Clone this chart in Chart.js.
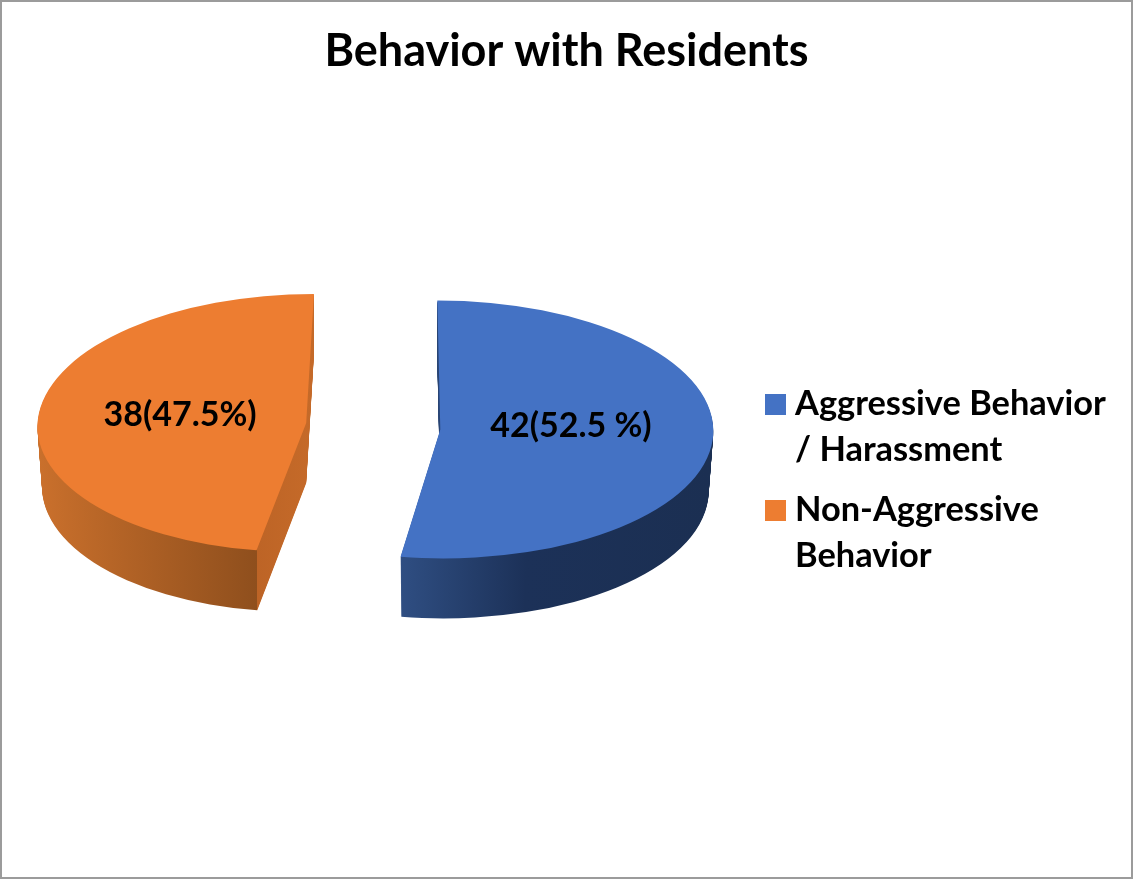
<!DOCTYPE html>
<html>
<head>
<meta charset="utf-8">
<title>Behavior with Residents</title>
<script src="https://cdn.jsdelivr.net/npm/chart.js@4/dist/chart.umd.min.js"></script>
<style>
  html, body { margin: 0; padding: 0; background: #fff; overflow: hidden; }
  #wrap { position: relative; width: 1133px; height: 879px; }
  #pie-chart { display: block; outline: 2px solid #9b9b9b; outline-offset: -2px; }
</style>
</head>
<body>
<div id="wrap"><canvas id="pie-chart" width="1133" height="879"></canvas></div>
<script>
const chartTitle = "Behavior with Residents";
const categories = ["Aggressive Behavior / Harassment", "Non-Aggressive Behavior"];
const legendLines = [["Aggressive Behavior", "/ Harassment"], ["Non-Aggressive", "Behavior"]];
const values = [42, 38];
const valueLabels = ["42(52.5 %)", "38(47.5%)"];
const sliceColors = ["#4472c4", "#ed7d31"];

// fake 3d: the arcs get squashed, pulled apart and stacked
const pieX = 375.5;
const pieY = 425.5;
const squash = 0.4725;
const depth = 60;
const shrink = 0.017;
const explode = [65, 69.5];
const sliceDrop = [1.5, 0];
const sliceWidth = [1, 0.984];
const sliceSkew = [0.023, -0.06];
const labelGap = 65;
const labelLift = [-7, -3];
const fontName = "Lato, Carlito, sans-serif";

// stops are relative to the slice's own center
function sideFill(ctx, arc, i) {
  const R = arc.outerRadius;
  let g;
  if (i === 0) {
    g = ctx.createLinearGradient(arc.x - 43, 0, arc.x + R, 0);
    g.addColorStop(0, "#2f4e82");
    g.addColorStop(0.4, "#1c3158");
    g.addColorStop(1, "#1b2f52");
  } else {
    g = ctx.createLinearGradient(arc.x - R, 0, arc.x + 3, 0);
    g.addColorStop(0, "#ca702c");
    g.addColorStop(0.834, "#8f4f1d");
    g.addColorStop(0.835, "#bd6426");
    g.addColorStop(1, "#c56a29");
  }
  return g;
}

const pie3d = {
  id: "pie3d",
  beforeDatasetDraw(chart, args) {
    const ctx = chart.ctx;
    args.meta.data.forEach((arc, i) => {
      const base = arc.options;
      const mid = (arc.startAngle + arc.endAngle) / 2;
      const ex = Math.cos(mid) * explode[i];
      const ey = Math.sin(mid) * explode[i] * squash + sliceDrop[i];
      const side = Object.create(base);
      side.backgroundColor = sideFill(ctx, arc, i);
      for (let t = depth; t >= 0; t--) {
        const s = 1 - shrink * t / depth;
        ctx.save();
        ctx.translate(pieX + ex, pieY + ey + t);
        ctx.transform(1, 0, sliceSkew[i], 1, 0, 0);
        ctx.scale(s * sliceWidth[i], squash);
        ctx.translate(-arc.x, -arc.y);
        arc.options = t === 0 ? base : side;
        arc.draw(ctx);
        ctx.restore();
      }
      arc.options = base;
    });
    return false;
  },
  afterDatasetsDraw(chart) {
    const ctx = chart.ctx;
    const arcs = chart.getDatasetMeta(0).data;
    ctx.save();
    ctx.fillStyle = "#000";
    // value labels
    ctx.font = "bold 34px " + fontName;
    ctx.textAlign = "center";
    ctx.textBaseline = "middle";
    arcs.forEach((arc, i) => {
      const mid = (arc.startAngle + arc.endAngle) / 2;
      const r = arc.outerRadius * 0.48 + labelGap;
      ctx.fillText(valueLabels[i], pieX + Math.cos(mid) * r, pieY + Math.sin(mid) * r * squash + labelLift[i]);
    });
    // legend, two lines each
    ctx.font = "bold 34.4px " + fontName;
    ctx.textAlign = "left";
    ctx.textBaseline = "alphabetic";
    legendLines.forEach((lines, i) => {
      const top = 394 + i * 106;
      ctx.fillStyle = sliceColors[i];
      ctx.fillRect(765, top, 21, 21);
      ctx.fillStyle = "#000";
      lines.forEach((line, j) => ctx.fillText(line, 795, top + 21 + j * 45.5));
    });
    ctx.restore();
  },
};

new Chart(document.getElementById("pie-chart"), {
  type: "pie",
  data: {
    labels: categories,
    datasets: [
      {
        data: values,
        backgroundColor: sliceColors,
        borderWidth: 0,
        clip: false,
      },
    ],
  },
  options: {
    responsive: false,
    animation: false,
    radius: 273,
    rotation: 0,
    plugins: {
      legend: { display: false },
      tooltip: { enabled: false },
      title: {
        display: true,
        text: chartTitle,
        color: "#000",
        font: { family: fontName, size: 45, weight: "bold" },
        padding: { top: 24, bottom: 10 },
      },
    },
  },
  plugins: [pie3d],
});
</script>
</body>
</html>
